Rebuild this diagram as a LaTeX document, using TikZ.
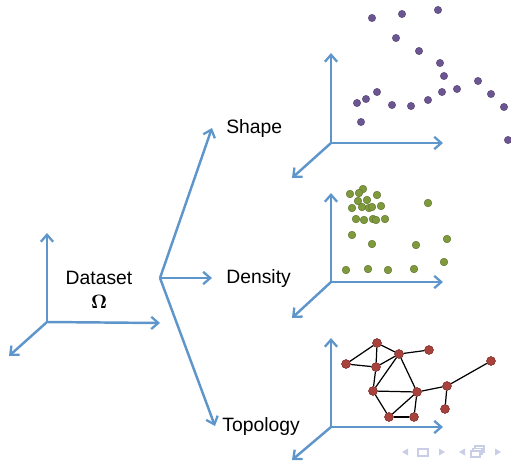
\documentclass[tikz,border=0pt]{standalone}
\usepackage{fontspec}
\setmainfont{Liberation Sans}
\usepackage{amsmath}
\usetikzlibrary{positioning, arrows.meta}
\definecolor{axisblue}{HTML}{5E95CB}
\definecolor{shapedot}{HTML}{6B5592}
\definecolor{densdot}{HTML}{7E9A3C}
\definecolor{topodot}{HTML}{A8423C}
\definecolor{navgray}{HTML}{C9CDE6}

\begin{document}
\begin{tikzpicture}[
  x=0.02cm, y=-0.02cm,
  axisArrow/.style={-{Straight Barb[length=4pt,width=7pt,line width=1.3pt]}, line width=1.4pt, draw=axisblue},
  branchLine/.style={line width=1.4pt, draw=axisblue},
  labelNode/.style={font=\fontsize{11}{13}\selectfont, anchor=west, inner sep=0pt},
  shapeDot/.style={circle, fill=shapedot, draw=shapedot!70!black, line width=0.2pt, inner sep=0pt, minimum size=4.2pt},
  densDot/.style={circle, fill=densdot, draw=densdot!70!black, line width=0.2pt, inner sep=0pt, minimum size=4.4pt},
  topoDot/.style={circle, fill=topodot, draw=topodot!70!black, line width=0.2pt, inner sep=0pt, minimum size=5pt},
  topoEdge/.style={draw=black, line width=0.7pt},
  navSym/.style={fill=navgray, draw=none}
]
\useasboundingbox (0,0) rectangle (511,461);

% Dataset axes
\coordinate (dO) at (47,322);
\draw[axisArrow] (dO) -- (47,233);
\draw[axisArrow] (dO) -- (160,323);
\draw[axisArrow] (dO) -- (9,356);
\node[font=\fontsize{11}{13}\selectfont, align=center, inner sep=0pt] (dataset) at (99,290) {Dataset\\[1pt]$\boldsymbol{\Omega}$};

% Branches
\coordinate (fork) at (160,278);
\node[labelNode] (shape) at (226,128) {Shape};
\node[labelNode] (density) at (226,278) {Density};
\node[labelNode] (topology) at (222,426) {Topology};
\draw[axisArrow] (fork) -- ([xshift=-8]shape.west);
\draw[axisArrow] (fork) -- ([xshift=-8]density.west);
\draw[axisArrow] (fork) -- ([xshift=-4]topology.west);

% Shape axes
\coordinate (sO) at (331,143);
\draw[axisArrow] (sO) -- (331,53);
\draw[axisArrow] (sO) -- (443,143);
\draw[axisArrow] (sO) -- (292,178);
\foreach \px/\py in {372/18, 402/14, 438/10, 396/38, 419/51, 440/63, 444/76, 478/81,
  491/94, 504/107, 508/140, 377/92, 366/99, 357/103, 361/122, 392/105, 411/106,
  428/100, 442/92, 457/89}
  \node[shapeDot] at (\px,\py) {};

% Density axes
\coordinate (nO) at (331,282);
\draw[axisArrow] (nO) -- (331,193);
\draw[axisArrow] (nO) -- (443,282);
\draw[axisArrow] (nO) -- (292,318);
\foreach \px/\py in {363/189, 350/194, 359/193, 377/195, 358/201, 367/200, 352/208,
  362/207, 369/208, 372/207, 381/206, 356/219, 364/220, 373/219, 376/220, 385/219,
  428/203, 352/235, 372/244, 416/245, 447/239, 444/262, 346/270, 368/269, 388/270, 414/269}
  \node[densDot] at (\px,\py) {};

% Topology axes
\coordinate (tO) at (331,427);
\draw[axisArrow] (tO) -- (331,338);
\draw[axisArrow] (tO) -- (443,427);
\draw[axisArrow] (tO) -- (292,460);

% Graph
\node[topoDot] (ta) at (377,343) {};
\node[topoDot] (tb) at (399,354) {};
\node[topoDot] (tc) at (429,350) {};
\node[topoDot] (td) at (346,364) {};
\node[topoDot] (te) at (376,367) {};
\node[topoDot] (tf) at (373,391) {};
\node[topoDot] (tg) at (417,392) {};
\node[topoDot] (th) at (447,386) {};
\node[topoDot] (ti) at (491,361) {};
\node[topoDot] (tj) at (445,409) {};
\node[topoDot] (tk) at (389,417) {};
\node[topoDot] (tl) at (414,417) {};
\begin{scope}[on background layer/.try]
\foreach \u/\v in {ta/td, td/te, ta/te, ta/tb, te/tb, tb/tc, te/tf, tb/tf, tb/tg,
  tf/tg, tf/tk, tk/tl, tl/tg, tk/tg, tg/th, th/ti, th/tj}
  \draw[topoEdge] (\u) -- (\v);
\end{scope}
\foreach \n in {ta,tb,tc,td,te,tf,tg,th,ti,tj,tk,tl}
  \node[topoDot] at (\n) {};

% Navigation symbols
\fill[navSym] (402,452) -- (408,448.5) -- (408,455.5) -- cycle;
\draw[navgray, line width=0.8pt] (418,449) rectangle (428,456);
\fill[navSym] (445,452) -- (439,448.5) -- (439,455.5) -- cycle;
\fill[navSym] (459,452) -- (465,448.5) -- (465,455.5) -- cycle;
\draw[navgray, line width=0.8pt, fill=white] (475,446) rectangle (484,452);
\draw[navgray, line width=0.8pt, fill=white] (473,448.5) rectangle (482,454.5);
\draw[navgray, line width=0.8pt, fill=white] (471,451) rectangle (480,457);
\fill[navSym] (501,452) -- (495,448.5) -- (495,455.5) -- cycle;
\end{tikzpicture}
\end{document}
